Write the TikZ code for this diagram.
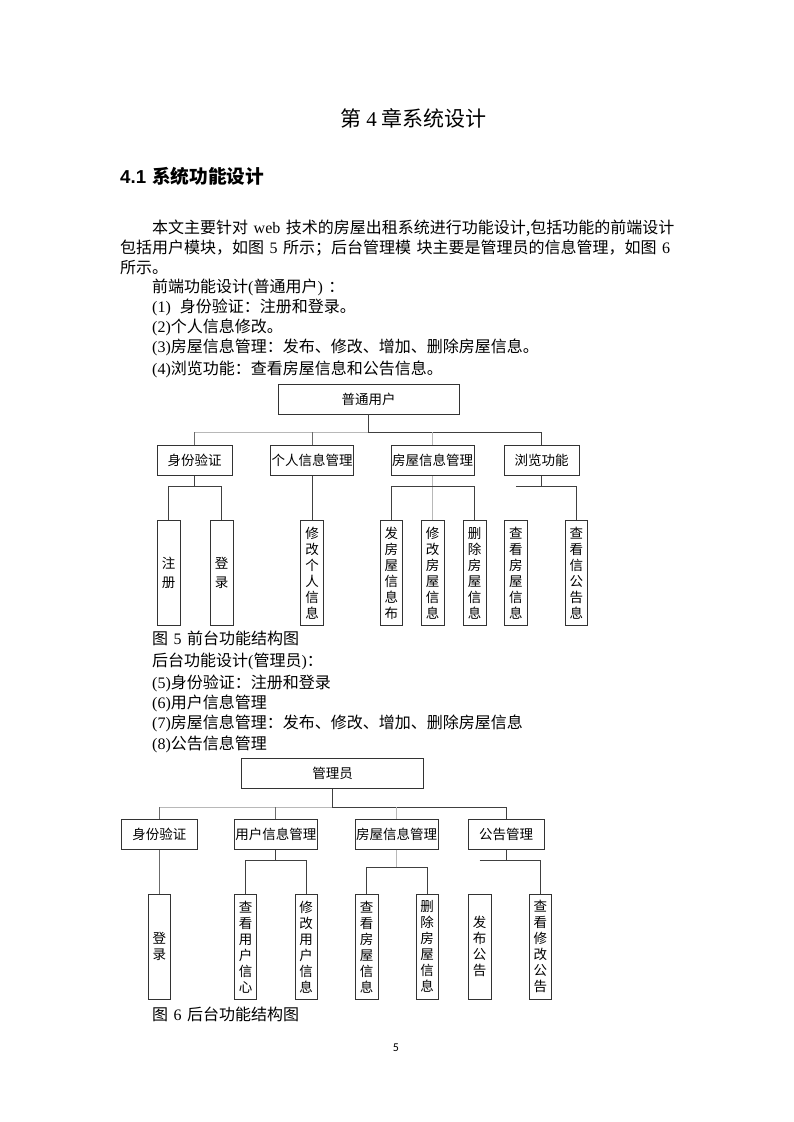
\documentclass[tikz,border=0pt]{standalone}
\usepackage{fontspec}
\setmainfont{Noto Sans CJK SC}
\newfontfamily\pnfont{Carlito}
\newfontfamily\lser{Liberation Serif}
\newfontfamily\lsans{Liberation Sans}
\newcommand{\dfont}{\fontsize{13.5pt}{16pt}\selectfont}
\newcommand{\bfont}{\fontsize{16pt}{20pt}\selectfont}
\newcommand{\hs}{\hspace{5.5pt}}
\begin{document}
\begin{tikzpicture}[x=1pt,y=-1pt,
  box/.style={draw=black!80, line width=0.8pt, fill=white, inner sep=0pt, font=\dfont, align=center},
  lv/.style={box, minimum height=30.5pt},
  leaf/.style={box, minimum width=22.6pt, minimum height=105pt},
  wleaf/.style={leaf, font={\fontsize{13.5pt}{19pt}\selectfont}},
  txt/.style={anchor=west, inner sep=0pt, font=\bfont},
  dk/.style={draw=black!75, line width=0.9pt},
  md/.style={draw=black!58, line width=0.9pt},
  lt/.style={draw=black!28, line width=0.9pt}]
\useasboundingbox (0,0) rectangle (793,1122);
\fill[white] (0,0) rectangle (793,1122);

% ---------- text ----------
\node[inner sep=0pt, font=\fontsize{21pt}{24pt}\selectfont] (title) at (413.5,118) {第\hspace{5pt}{\lser 4}\hspace{5pt}{}章系统设计};
\node[txt, font=\fontsize{18.7pt}{22pt}\selectfont\bfseries] (h1) at (120,176) {{\lsans\bfseries 4.1}\hspace{6pt}{}系统功能设计};
\node[txt] (p1) at (152,228) {本文主要针对\hs{}{\lser web}\hs{}技术的房屋出租系统进行功能设计,包括功能的前端设计};
\node[txt] (p2) at (120,248) {包括用户模块，如图\hs{}{\lser 5}\hs{}所示；后台管理模\hs{}块主要是管理员的信息管理，如图\hs{}{\lser 6}};
\node[txt] (p3) at (120,268) {所示。};
\node[txt] (p4) at (152,287) {前端功能设计{\lser(}普通用户{\lser)}\hs{}：};
\node[txt] (p5) at (152,307) {{\lser(1)}\hspace{9pt}{}身份验证：注册和登录。};
\node[txt] (p6) at (152,327) {{\lser(2)}个人信息修改。};
\node[txt] (p7) at (152,347) {{\lser(3)}房屋信息管理：发布、修改、增加、删除房屋信息。};
\node[txt] (p8) at (152,369) {{\lser(4)}浏览功能：查看房屋信息和公告信息。};
\node[txt] (cap1) at (152,638) {图\hs{}{\lser 5}\hs{}前台功能结构图};
\node[txt] (q1) at (152,661) {后台功能设计{\lser(}管理员{\lser)}：};
\node[txt] (q2) at (152,683) {{\lser(5)}身份验证：注册和登录};
\node[txt] (q3) at (152,703) {{\lser(6)}用户信息管理};
\node[txt] (q4) at (152,723) {{\lser(7)}房屋信息管理：发布、修改、增加、删除房屋信息};
\node[txt] (q5) at (152,744) {{\lser(8)}公告信息管理};
\node[txt] (cap2) at (152,1014) {图\hs{}{\lser 6}\hs{}后台功能结构图};
\node[inner sep=0pt, font=\pnfont\fontsize{12pt}{14pt}\selectfont] (pn) at (396,1048) {5};

% ---------- diagram 1 ----------
\node[box, minimum width=181pt, minimum height=30pt] (u0) at (368.5,399) {普通用户};
\node[lv, minimum width=75pt] (a1) at (194.7,460.5) {身份验证};
\node[lv, minimum width=83pt] (a2) at (312,460.5) {个人信息管理};
\node[lv, minimum width=83pt] (a3) at (432.7,460.5) {房屋信息管理};
\node[lv, minimum width=75pt] (a4) at (541.7,460.5) {浏览功能};

\node[wleaf] (l1) at (168.6,573) {注\\册};
\node[wleaf] (l2) at (221.7,573) {登\\录};
\node[leaf] (l3) at (312,573) {修\\改\\个\\人\\信\\息};
\node[leaf] (l4) at (391.3,573) {发\\房\\屋\\信\\息\\布};
\node[leaf] (l5) at (432.7,573) {修\\改\\房\\屋\\信\\息};
\node[leaf] (l6) at (474.7,573) {删\\除\\房\\屋\\信\\息};
\node[leaf] (l7) at (515.8,573) {查\\看\\房\\屋\\信\\息};
\node[leaf] (l8) at (576.3,573) {查\\看\\信\\公\\告\\息};

\coordinate (b1) at (368.5,432);
\coordinate (s1) at (0,486);
\draw[lt] (a1.north |- b1) -- (b1);
\draw[dk] (u0.south) -- (b1) -- (a4.north |- b1) -- (a4.north);
\draw[md] (a1.north |- b1) -- (a1.north);
\draw[md] (a2.north |- b1) -- (a2.north);
\draw[lt] (a3.north |- b1) -- (a3.north);

\draw[dk] (a1.south) -- (a1.south |- s1);
\draw[dk] (l1.north) -- (l1.north |- s1) -- (l2.north |- s1) -- (l2.north);
\draw[dk] (a2.south) -- (l3.north);
\draw[lt] (a3.south) -- (l5.north);
\draw[dk] (l4.north) -- (l4.north |- s1) -- (l6.north |- s1) -- (l6.north);
\draw[dk] (a4.south) -- (a4.south |- s1);
\draw[dk] (l7.north |- s1) -- (l8.north |- s1) -- (l8.north);

% ---------- diagram 2 ----------
\node[box, minimum width=181.6pt, minimum height=30pt] (m0) at (332.5,773.3) {管理员};
\node[lv, minimum width=75.6pt] (c1) at (159.3,834.2) {身份验证};
\node[lv, minimum width=83pt] (c2) at (275.8,834.2) {用户信息管理};
\node[lv, minimum width=83.3pt] (c3) at (396.7,834.2) {房屋信息管理};
\node[lv, minimum width=75.7pt] (c4) at (506.2,834.2) {公告管理};

\node[leaf] (k1) at (159.3,946.8) {登\\录};
\node[leaf] (k2) at (245.5,946.8) {查\\看\\用\\户\\信\\心};
\node[leaf] (k3) at (306.2,946.8) {修\\改\\用\\户\\信\\息};
\node[leaf] (k4) at (366.7,946.8) {查\\看\\房\\屋\\信\\息};
\node[leaf] (k5) at (427.2,946.8) {删\\除\\房\\屋\\信\\息};
\node[leaf] (k6) at (479.7,946.8) {发\\布\\公\\告};
\node[leaf] (k7) at (540.3,946.8) {查\\看\\修\\改\\公\\告};

\coordinate (b2) at (332.5,807.3);
\coordinate (s2) at (0,860.7);
\coordinate (s3) at (0,867.3);
\draw[lt] (c1.north |- b2) -- (b2);
\draw[dk] (m0.south) -- (b2) -- (c4.north |- b2) -- (c4.north);
\draw[md] (c1.north |- b2) -- (c1.north);
\draw[md] (c2.north |- b2) -- (c2.north);
\draw[lt] (c3.north |- b2) -- (c3.north);

\draw[md, line width=1.4pt] (c1.south) -- (k1.north);
\draw[dk] (c2.south) -- (c2.south |- s2);
\draw[dk] (k2.north) -- (k2.north |- s2) -- (k3.north |- s2) -- (k3.north);
\draw[lt] (c3.south) -- (c3.south |- s3);
\draw[dk] (k4.north) -- (k4.north |- s3) -- (k5.north |- s3) -- (k5.north);
\draw[dk] (c4.south) -- (c4.south |- s2);
\draw[dk] (k6.north |- s2) -- (k7.north |- s2) -- (k7.north);
\end{tikzpicture}
\end{document}
